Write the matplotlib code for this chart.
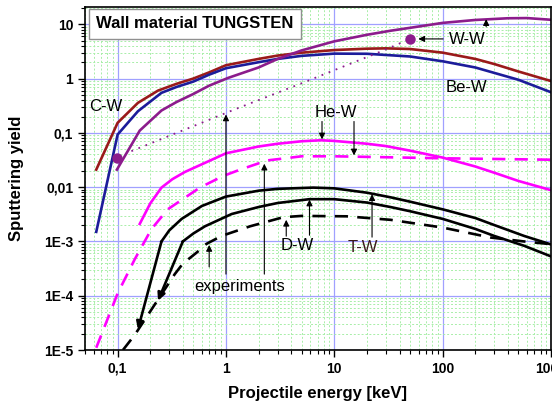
import matplotlib
matplotlib.use("Agg")
import matplotlib.pyplot as plt
from matplotlib.ticker import LogLocator, NullFormatter

plt.rcParams['font.family'] = ['Liberation Sans', 'DejaVu Sans']

# ---------------- data (energy keV, sputtering yield) ----------------
cw_E = [0.0635, 0.1, 0.154, 0.236, 0.35, 0.5, 0.7, 1, 2, 3, 5, 10, 20, 30, 50, 100, 200, 300, 500, 1000]
cw_Y = [0.021, 0.153, 0.357, 0.60, 0.80, 1.0, 1.3, 1.76, 2.3, 2.65, 3.0, 3.35, 3.55, 3.6, 3.5, 3.0,
        2.3, 1.85, 1.35, 0.9]

bew_E = [0.0635, 0.1, 0.154, 0.254, 0.35, 0.5, 0.7, 1, 2, 3, 5, 10, 20, 50, 100, 200, 300, 500, 1000]
bew_Y = [0.0015, 0.093, 0.25, 0.546, 0.70, 0.88, 1.18, 1.55, 2.0, 2.3, 2.62, 2.88, 2.86, 2.55, 2.08,
         1.6, 1.27, 0.95, 0.56]

ww_E = [0.0985, 0.16, 0.254, 0.35, 0.5, 0.7, 1.05, 2, 3, 5, 10, 20, 33, 50, 100, 200, 400, 600, 1000]
ww_Y = [0.021, 0.11, 0.258, 0.37, 0.52, 0.74, 1.03, 1.6, 2.3, 3.3, 4.85, 6.4, 7.6, 8.6, 10.6, 12.0,
        12.9, 13.0, 12.1]

ww_fit_E = [0.134, 1.26, 4.85, 28.5, 50]
ww_fit_Y = [0.046, 0.28, 0.8, 3.3, 5.37]

ww_exp_E = [0.098, 50]
ww_exp_Y = [0.035, 5.37]

hew_E = [0.16, 0.2, 0.254, 0.32, 0.417, 0.64, 1, 2, 3, 5, 7.5, 10, 20, 30, 50, 100, 200, 300, 500, 1000]
hew_Y = [0.0021, 0.005, 0.0098, 0.014, 0.019, 0.028, 0.042, 0.056, 0.063, 0.070, 0.073, 0.071, 0.063,
         0.057, 0.047, 0.035, 0.024, 0.0184, 0.013, 0.0088]

hew2_E = [0.0635, 0.1, 0.144, 0.205, 0.29, 0.574, 0.94, 1.35, 2.4, 5, 10, 100, 1000]
hew2_Y = [1.1e-5, 1.1e-4, 4.7e-4, 0.00168, 0.0039, 0.0098, 0.016, 0.021, 0.031, 0.037, 0.037, 0.034, 0.032]

# upper solid black (first point = arrow tip)
dw_E = [0.154, 0.254, 0.3, 0.39, 0.6, 1, 2, 3, 6.4, 10, 20, 33, 50, 100, 200, 300, 566, 1000]
dw_Y = [2.4e-5, 1.0e-3, 0.0016, 0.0026, 0.0045, 0.0067, 0.0086, 0.0093, 0.0098, 0.0095, 0.0079,
        0.0065, 0.0054, 0.0039, 0.0027, 0.0020, 0.00126, 8.8e-4]

# lower solid black (first point = arrow tip)
tw_E = [0.236, 0.4, 0.5, 0.64, 1.13, 2, 3, 5.9, 10, 20, 33, 50, 100, 200, 300, 566, 1000]
tw_Y = [8.1e-5, 1.0e-3, 0.0014, 0.0019, 0.0032, 0.0043, 0.0051, 0.0060, 0.0060, 0.0052, 0.0043,
        0.0036, 0.0026, 0.0017, 0.00126, 8.3e-4, 5.3e-4]

# dashed black
dw2_E = [0.112, 0.144, 0.337, 0.4, 0.54, 0.66, 0.91, 1.13, 1.67, 3.4, 5, 13, 33, 100, 277, 560, 1000]
dw2_Y = [1e-5, 1.9e-5, 2.5e-4, 3.9e-4, 6.3e-4, 9.0e-4, 1.26e-3, 1.46e-3, 1.9e-3, 2.8e-3, 2.95e-3,
         2.9e-3, 2.5e-3, 1.8e-3, 1.18e-3, 1.0e-3, 8.9e-4]

xticks = [0.1, 1, 10, 100, 1000]
xticklabels = ["0,1", "1", "10", "100", "1000"]
yticks = [1e-5, 1e-4, 1e-3, 0.01, 0.1, 1, 10]
yticklabels = ["1E-5", "1E-4", "1E-3", "0,01", "0,1", "1", "10"]

# ---------------- styling ----------------
RED = '#9a1a1a'
BLUE = '#1c1c9a'
PURPLE = '#8c1c8c'
MAG = '#ff00ff'
LW = 1.9

fig = plt.figure(figsize=(5.52, 4.05), dpi=100)
ax = fig.add_axes([85/552, 55/405, 466/552, 343/405])
ax.set_xscale('log')
ax.set_yscale('log')
ax.set_xlim(0.05, 1000)
ax.set_ylim(1e-5, 20.8)

ax.xaxis.set_minor_locator(LogLocator(base=10, subs=range(2, 10), numticks=20))
ax.yaxis.set_minor_locator(LogLocator(base=10, subs=range(2, 10), numticks=20))
ax.xaxis.set_minor_formatter(NullFormatter())
ax.yaxis.set_minor_formatter(NullFormatter())
ax.set_xticks(xticks)
ax.set_xticklabels(xticklabels, fontweight='bold', fontsize=10)
ax.set_yticks(yticks)
ax.set_yticklabels(yticklabels, fontweight='bold', fontsize=10)
ax.tick_params(which='major', direction='out', length=5, width=1)
ax.tick_params(which='minor', direction='out', length=3, width=0.8)

ax.grid(which='minor', color='#a8eea8', linestyle=(0, (2, 2)), linewidth=0.7)
ax.grid(which='major', color='#a0a0ff', linestyle='-', linewidth=0.9)
ax.set_axisbelow(True)
for s in ax.spines.values():
    s.set_linewidth(1.2)

# curves
ax.plot(cw_E, cw_Y, color=RED, lw=LW)
ax.plot(bew_E, bew_Y, color=BLUE, lw=LW)
ax.plot(ww_E, ww_Y, color=PURPLE, lw=LW)
ax.plot(ww_fit_E, ww_fit_Y, color=PURPLE, lw=1.3, linestyle=(0, (1, 3.2)))
ax.plot(ww_exp_E, ww_exp_Y, 'o', color=PURPLE, ms=6.5)
ax.plot(hew_E, hew_Y, color=MAG, lw=LW)
ax.plot(hew2_E, hew2_Y, color=MAG, lw=LW, linestyle=(0, (5, 3.5)))
ax.plot(dw2_E, dw2_Y, color='k', lw=LW, linestyle=(0, (5, 3.5)))
ax.plot(dw_E[1:], dw_Y[1:], color='k', lw=LW)
ax.plot(tw_E[1:], tw_Y[1:], color='k', lw=LW)
for E, Y in ((dw_E, dw_Y), (tw_E, tw_Y)):
    ax.annotate('', xy=(E[0], Y[0]), xytext=(E[1], Y[1]),
                arrowprops=dict(arrowstyle='-|>', lw=LW, color='k',
                                shrinkA=0, shrinkB=0, mutation_scale=11))

# annotation arrows (tail -> head)
def arrow(x0, y0, x1, y1):
    ax.annotate('', xy=(x1, y1), xytext=(x0, y0),
                arrowprops=dict(arrowstyle='-|>', lw=0.8, color='k',
                                shrinkA=0, shrinkB=0, mutation_scale=9))

arrow(1.0, 2.5e-4, 1.0, 0.218)
arrow(2.26, 2.5e-4, 2.26, 0.027)
arrow(0.7, 3.4e-4, 0.7, 8.6e-4)
arrow(3.6, 1.25e-3, 3.6, 2.5e-3)
arrow(5.9, 1.3e-3, 5.9, 5.9e-3)
arrow(22.3, 1.2e-3, 22.3, 7.4e-3)
arrow(7.7, 0.162, 7.7, 0.0757)
arrow(15.2, 0.162, 15.2, 0.0384)
arrow(101, 5.37, 59.6, 5.37)
arrow(252, 9.0, 252, 12.4)

tk = dict(fontsize=12, ha='center', va='center')
ax.text(0.0774, 0.30, 'C-W', **tk)
ax.text(167, 0.68, 'Be-W', **tk)
ax.text(170, 5.3, 'W-W', **tk)
ax.text(10.4, 0.234, 'He-W', **tk)
ax.text(4.54, 8.3e-4, 'D-W', **tk)
ax.text(18.4, 7.8e-4, 'T-W', color='#3a1a1a', **tk)
ax.text(1.34, 1.5e-4, 'experiments', **tk)

ax.text(96.5/552, (405-23.5)/405, 'Wall material TUNGSTEN', transform=fig.transFigure,
        fontsize=12, fontweight='bold', ha='left', va='center', zorder=10,
        bbox=dict(boxstyle='square,pad=0.45', facecolor='white', edgecolor='#909090', lw=1))

ax.set_xlabel('Projectile energy [keV]', fontsize=12, fontweight='bold', labelpad=7)
ax.set_ylabel('Sputtering yield', fontsize=12, fontweight='bold', labelpad=14)

fig.savefig('out.png', dpi=100)
